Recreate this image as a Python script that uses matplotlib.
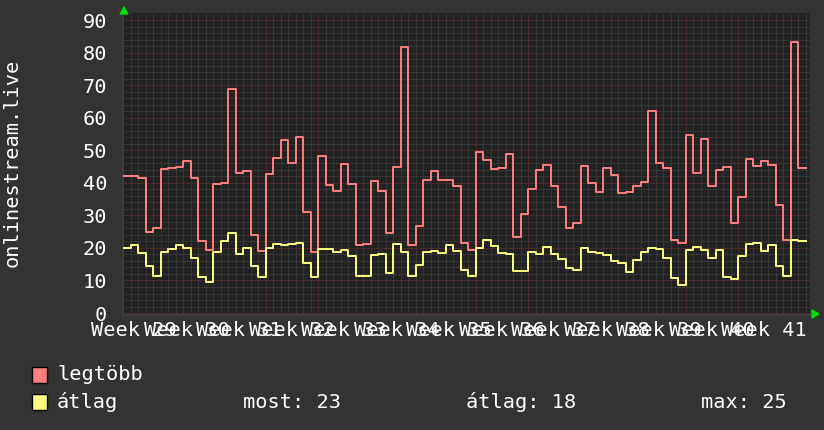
import matplotlib
matplotlib.use('Agg')
import matplotlib.pyplot as plt
import matplotlib.transforms as mtransforms
from matplotlib.patches import Rectangle, Polygon
import numpy as np

# daily values (one step per day)
legtobb = [42.1, 42.1, 41.4, 25.0, 26.0, 44.2, 44.5, 44.8, 46.6, 41.6,
           22.0, 19.5, 39.5, 40.0, 68.8, 43.0, 43.5, 24.1, 19.0, 42.6,
           47.6, 53.2, 46.1, 54.2, 31.1, 18.9, 48.2, 39.2, 37.6, 45.8,
           39.5, 20.9, 21.3, 40.7, 37.5, 24.6, 45.0, 81.8, 20.9, 26.8,
           40.8, 43.5, 40.8, 41.0, 39.0, 21.4, 19.5, 49.4, 46.9, 44.1,
           44.7, 48.7, 23.3, 30.3, 38.0, 43.9, 45.6, 39.1, 32.7, 26.1,
           27.6, 45.3, 40.0, 37.2, 44.7, 42.3, 36.9, 37.2, 38.9, 40.4,
           62.2, 46.2, 44.4, 22.5, 21.4, 54.8, 43.1, 53.3, 39.1, 43.8,
           45.0, 27.8, 35.6, 47.4, 45.3, 46.8, 45.6, 33.2, 22.5, 83.3,
           44.7]
atlag = [20.1, 20.9, 18.4, 14.3, 11.5, 18.6, 19.8, 20.9, 20.1, 17.0,
         11.0, 9.5, 18.9, 22.0, 24.6, 18.1, 20.0, 14.3, 11.1, 19.9,
         21.2, 20.9, 21.2, 21.6, 15.3, 11.1, 19.7, 19.7, 18.6, 19.4,
         17.6, 11.5, 11.5, 17.8, 18.1, 12.3, 21.3, 18.9, 11.3, 14.7,
         18.6, 19.2, 18.3, 20.9, 19.0, 13.1, 11.5, 20.0, 22.5, 20.6,
         18.5, 18.1, 12.8, 12.8, 18.9, 18.1, 20.4, 18.1, 16.5, 13.7,
         13.1, 20.1, 18.9, 18.3, 17.7, 16.1, 15.5, 12.7, 16.2, 18.9,
         20.0, 19.8, 17.0, 10.9, 8.7, 19.5, 20.4, 19.3, 16.8, 19.5,
         11.1, 10.6, 17.4, 21.3, 21.6, 19.1, 20.9, 14.5, 11.5, 22.5,
         22.2]
weeks = [29, 30, 31, 32, 33, 34, 35, 36, 37, 38, 39, 40, 41]
first_monday = 5      # day index of the first week boundary
y_label = 'onlinestream.live'
legend_names = ['legtöbb', 'átlag']
stats = ['most: 23', 'átlag: 18', 'max: 25']

BACK = '#333333'
CANVAS = '#222222'
RED = '#ff7f7f'
YEL = '#ffff80'
FONT = 'DejaVu Sans Mono'
FS = 14.6

W, H = 824, 430
fig = plt.figure(figsize=(W / 100, H / 100), dpi=100, facecolor=BACK)
ax = fig.add_axes([123 / W, 1 - 315 / H, 687 / W, 302 / H], facecolor=CANVAS)

days = np.arange(len(legtobb) + 1)
ax.step(days, legtobb + [legtobb[-1]], where='post', color=RED, lw=1.4, zorder=3)
ax.step(days, atlag + [atlag[-1]], where='post', color=YEL, lw=1.4, zorder=3)

ax.set_xlim(0.13, 91.6)
ax.set_ylim(-0.6, 92.15)

# grid: minor every day / 2 units, major every week / 10 units
ax.set_xticks(np.arange(first_monday, 92, 7))
ax.set_xticks(np.arange(0, 92, 1), minor=True)
ax.set_yticks(np.arange(0, 91, 10))
ax.set_yticks(np.arange(0, 92, 2), minor=True)
ax.grid(which='minor', color='#4a4a4a', lw=0.72, linestyle=(0, (1, 1)))
ax.grid(which='major', color='#6e3232', lw=0.72, linestyle=(0, (1, 1)))
ax.set_axisbelow(True)
ax.tick_params(which='both', length=0)
ax.tick_params(axis='x', labelbottom=False)
ax.tick_params(axis='y', colors='white', pad=11.5)
for lab in ax.get_yticklabels():
    lab.set_family(FONT)
    lab.set_fontsize(FS)
for s in ['top', 'right']:
    ax.spines[s].set_visible(False)
for s in ['left', 'bottom']:
    ax.spines[s].set_color('#3c3c3c')
    ax.spines[s].set_linewidth(1.5)

# week labels, centred in the middle of each week
trans = mtransforms.blended_transform_factory(ax.transData, fig.transFigure)
for i, wk in enumerate(weeks):
    ax.text(first_monday + 7 * i - 3.5, 1 - 330 / H, 'Week %d' % wk, transform=trans,
            ha='center', va='center', color='white', family=FONT, fontsize=FS, clip_on=False)

fig.text(12 / W, 1 - 163 / H, y_label, rotation=90, ha='center', va='center',
         color='white', family=FONT, fontsize=FS)

# green axis arrows
fig.patches.append(Polygon([[120 / W, 1 - 14 / H], [128 / W, 1 - 14 / H], [124 / W, 1 - 7 / H]],
                           closed=True, transform=fig.transFigure, color='#00dd00'))
fig.patches.append(Polygon([[812 / W, 1 - 310 / H], [812 / W, 1 - 318 / H], [819 / W, 1 - 314 / H]],
                           closed=True, transform=fig.transFigure, color='#00dd00'))

# legend
rows = [375, 402]
for name, col, yy in zip(legend_names, [RED, YEL], rows):
    fig.patches.append(Rectangle((32 / W, 1 - (yy + 8) / H), 15 / W, 16 / H,
                                 transform=fig.transFigure, facecolor=col,
                                 edgecolor='black', lw=1))
    fig.text(57 / W, 1 - yy / H, name, ha='left', va='center', color='white',
             family=FONT, fontsize=FS)
for txt, xx in zip(stats, [243, 466, 701]):
    fig.text(xx / W, 1 - rows[1] / H, txt, ha='left', va='center', color='white',
             family=FONT, fontsize=FS)

fig.savefig('out.png', dpi=100, facecolor=BACK)
